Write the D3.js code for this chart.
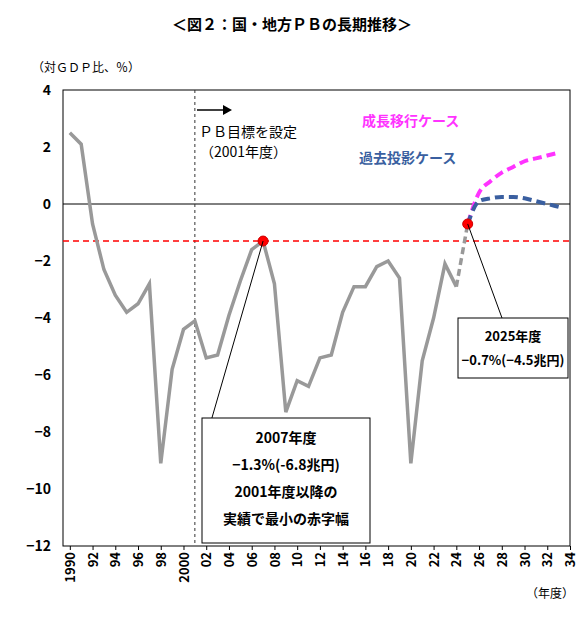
<!DOCTYPE html><html><head><meta charset="utf-8">
<script src="https://cdn.jsdelivr.net/npm/d3@7"></script>
<style>body{margin:0;background:#fff}text{font-family:"Noto Sans CJK JP",sans-serif}</style></head><body>
<svg id="c" width="584" height="617"></svg>
<script>
const years=d3.range(1990,2025);
const actual=[2.5,2.1,-0.7,-2.3,-3.2,-3.8,-3.5,-2.8,-9.1,-5.8,-4.4,-4.1,-5.4,-5.3,-3.9,-2.7,-1.6,-1.3,-2.8,-7.3,-6.2,-6.4,-5.4,-5.3,-3.8,-2.9,-2.9,-2.2,-2.0,-2.6,-9.1,-5.5,-4.0,-2.1,-2.9];
const bridge=[[2024,-2.9],[2025,-0.7]];
const projYears=d3.range(2025,2034);
const growth=[-0.7,0.4,0.8,1.1,1.3,1.5,1.6,1.7,1.8];
const baseline=[-0.7,0.1,0.2,0.25,0.25,0.2,0.1,0.0,-0.1];
const yTicks=[4,2,0,-2,-4,-6,-8,-10,-12];
const target=-1.3;
const svg=d3.select("#c");
const x=d3.scaleLinear().domain([1989.4,2034]).range([63,570]);
const y=d3.scaleLinear().domain([-12,4]).range([546,90]);
svg.append("text").attr("x",292).attr("y",30).attr("text-anchor","middle").attr("font-size",15).attr("font-weight","bold").text("＜図２：国・地方ＰＢの長期推移＞");
svg.append("text").attr("x",32).attr("y",72).attr("font-size",12).text("（対ＧＤＰ比、％）");
svg.append("rect").attr("x",63).attr("y",90).attr("width",507).attr("height",456).attr("fill","none").attr("stroke","#000");
const ya=svg.append("g").attr("transform","translate(63,0)").call(d3.axisLeft(y).tickValues(yTicks).tickSize(0).tickPadding(12).tickFormat(d=>d===0?"0":d3.format("d")(d)));
ya.select(".domain").remove();ya.selectAll("text").attr("font-size",14).attr("font-weight","bold");
const xt=d3.range(1990,2035,2);
const xa=svg.append("g").attr("transform","translate(0,546)").call(d3.axisBottom(x).tickValues(xt).tickSize(4).tickFormat(d=>(d===1990||d===2000)?d:String(d%100).padStart(2,"0")));
xa.select(".domain").remove();
xa.selectAll("text").attr("font-size",13).attr("font-weight","bold").attr("transform","rotate(-90)").attr("text-anchor","end").attr("dy","0.35em").attr("y",0).attr("x",-6);
svg.append("text").attr("x",574).attr("y",598).attr("text-anchor","end").attr("font-size",12).text("（年度）");
svg.append("line").attr("x1",63).attr("x2",570).attr("y1",y(0)).attr("y2",y(0)).attr("stroke","#000");
svg.append("line").attr("x1",x(2001)).attr("x2",x(2001)).attr("y1",90).attr("y2",546).attr("stroke","#333").attr("stroke-dasharray","3,3");
svg.append("line").attr("x1",63).attr("x2",570).attr("y1",y(target)).attr("y2",y(target)).attr("stroke","#f00").attr("stroke-width",1.5).attr("stroke-dasharray","6,4");
const line=d3.line().x(d=>x(d[0])).y(d=>y(d[1]));
svg.append("path").attr("d",line(years.map((t,i)=>[t,actual[i]]))).attr("fill","none").attr("stroke","#999").attr("stroke-width",3.5);
svg.append("path").attr("d",line(bridge)).attr("fill","none").attr("stroke","#999").attr("stroke-width",3.5).attr("stroke-dasharray","7,4");
const cl=d3.line().curve(d3.curveMonotoneX).x(d=>x(d[0])).y(d=>y(d[1]));
svg.append("path").attr("d",cl(projYears.map((t,i)=>[t,growth[i]]))).attr("fill","none").attr("stroke","#ff33ff").attr("stroke-width",4).attr("stroke-dasharray","9,5");
svg.append("path").attr("d",cl(projYears.map((t,i)=>[t,baseline[i]]))).attr("fill","none").attr("stroke","#3a5fa0").attr("stroke-width",4).attr("stroke-dasharray","9,5");
[[2007,-1.3],[2025,-0.7]].forEach(p=>svg.append("circle").attr("cx",x(p[0])).attr("cy",y(p[1])).attr("r",5).attr("fill","#f00").attr("stroke","#c00"));
svg.append("line").attr("x1",197).attr("x2",225).attr("y1",110).attr("y2",110).attr("stroke","#000").attr("stroke-width",1.5);
svg.append("path").attr("d","M223,105 L232,110 L223,115 Z").attr("fill","#000");
svg.append("text").attr("x",199).attr("y",137).attr("font-size",14).text("ＰＢ目標を設定");
svg.append("text").attr("x",200).attr("y",157).attr("font-size",14).text("（2001年度）");
svg.append("text").attr("x",362).attr("y",126).attr("font-size",14).attr("font-weight","bold").attr("fill","#ff33ff").text("成長移行ケース");
svg.append("text").attr("x",359).attr("y",163).attr("font-size",14).attr("font-weight","bold").attr("fill","#3a5fa0").text("過去投影ケース");
svg.append("line").attr("x1",x(2007)).attr("y1",y(-1.3)).attr("x2",x(2002.5)).attr("y2",418).attr("stroke","#000");
svg.append("rect").attr("x",202).attr("y",418).attr("width",168).attr("height",125).attr("fill","#fff").attr("stroke","#000");
["2007年度","−1.3%(-6.8兆円)","2001年度以降の","実績で最小の赤字幅"].forEach((t,i)=>svg.append("text").attr("x",286).attr("y",443+i*27).attr("text-anchor","middle").attr("font-size",14).attr("font-weight","bold").text(t));
svg.append("line").attr("x1",x(2025)).attr("y1",y(-0.7)).attr("x2",502).attr("y2",318).attr("stroke","#000");
svg.append("rect").attr("x",458).attr("y",318).attr("width",110).attr("height",60).attr("fill","#fff").attr("stroke","#000");
["2025年度","−0.7%(−4.5兆円)"].forEach((t,i)=>svg.append("text").attr("x",513).attr("y",341+i*24).attr("text-anchor","middle").attr("font-size",13).attr("font-weight","bold").text(t));
</script></body></html>
